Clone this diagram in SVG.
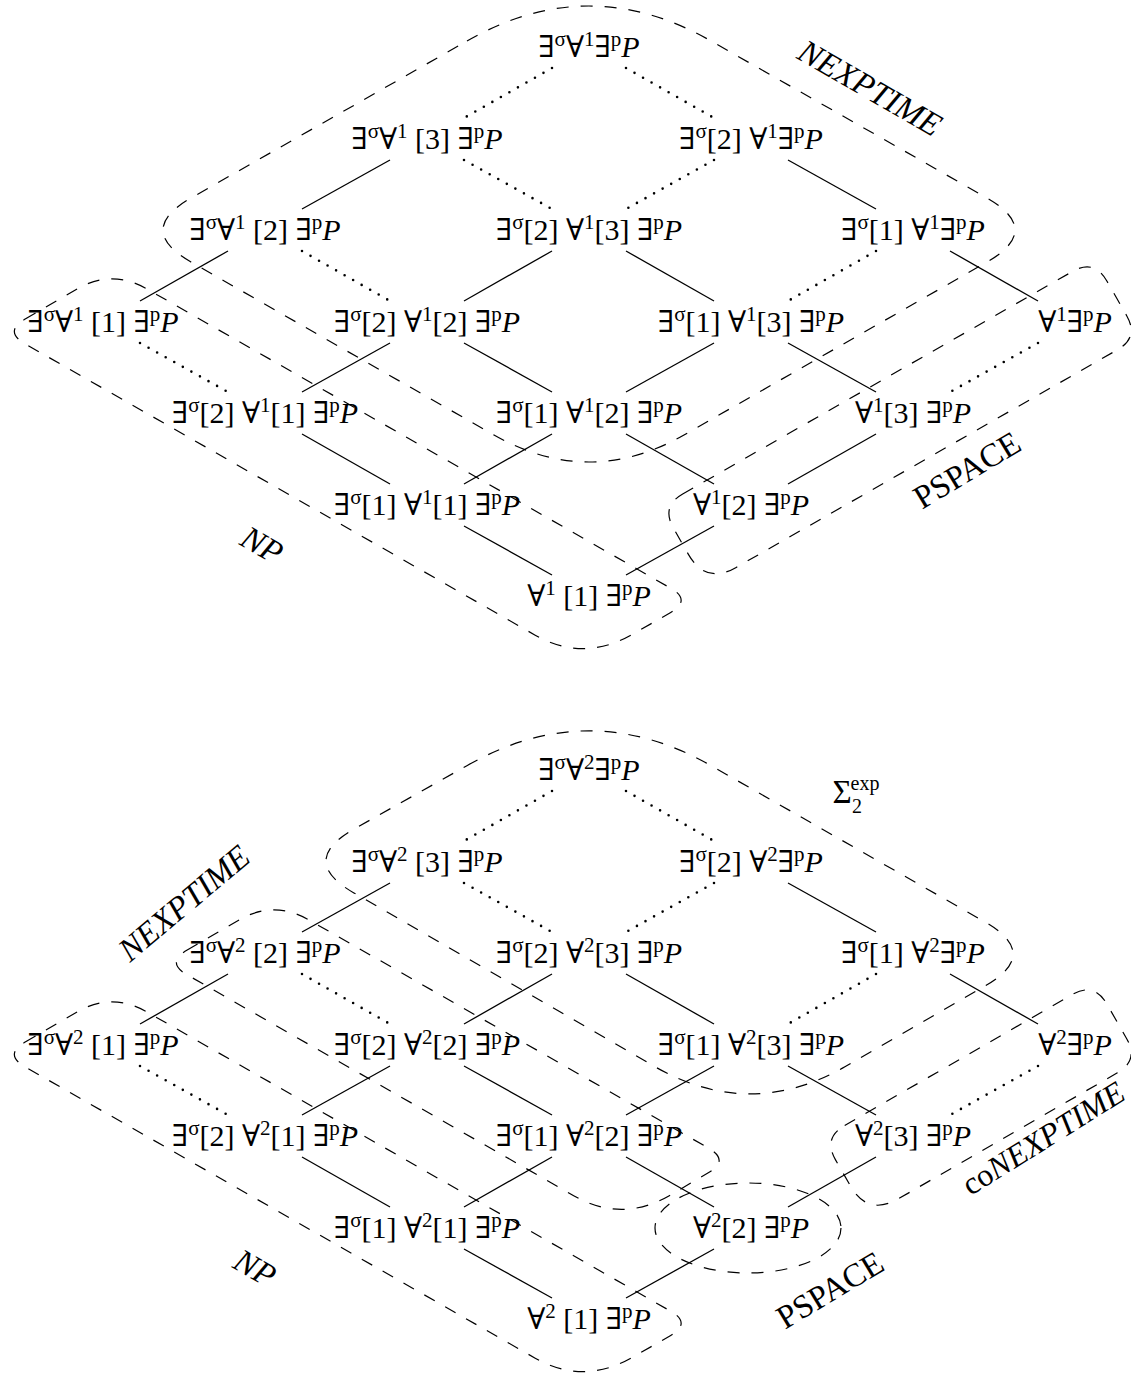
<svg xmlns="http://www.w3.org/2000/svg" width="1131" height="1374" viewBox="0 0 1131 1374">
<style>
.n{font-family:"Liberation Serif","DejaVu Serif",serif;font-size:30px;text-anchor:middle;fill:#000}
.s{font-size:21px}
.i{font-style:italic}
.e{stroke:#000;stroke-width:1.3;fill:none}
.d{stroke:#000;stroke-width:2.6;stroke-linecap:round;stroke-dasharray:0 9.8;fill:none}
.r{stroke:#000;stroke-width:1.2;fill:none;stroke-dasharray:12 12}
.lab{font-family:"Liberation Serif","DejaVu Serif",serif;font-size:33px;text-anchor:middle;fill:#000}
</style>
<rect width="1131" height="1374" fill="#fff"/>
<g id="regions">
<path id="r-nexptime-1" class="r" d="M 467,41 Q 589,-29 711,41 L 987,198 Q 1043,230 987,262 L 684,435 Q 589,489 494,435 L 191,262 Q 135,230 191,198 Z"/>
<path id="r-np-1" class="r" d="M 25.2,319.1 L 77.3,288.8 Q 112,269 146.7,288.8 L 670.3,588 Q 692,600 670.3,612.8 L 630.8,635.2 Q 583,662 535.2,635.2 L 25.2,343.9 Q 3.5,331.5 25.2,319.1 Z"/>
<path id="r-pspace-1" class="r" d="M 682.7,494 L 1072.6,271.4 Q 1094.3,259 1106.7,280.7 L 1126.7,315.7 Q 1139.1,337.4 1117.4,349.8 L 736.2,567.4 Q 705.8,584.8 688.4,554.4 L 673.4,528.1 Q 661,506.4 682.7,494 Z"/>
<path id="r-sigma-2" class="r" d="M 466.9,765.7 Q 589,696 711.1,765.7 L 985.2,922.1 Q 1041,954 985.2,985.9 L 844.9,1066.8 Q 750,1121 655.1,1066.8 L 353.9,892.9 Q 298,861 353.9,829.1 Z"/>
<path id="r-nexptime-2" class="r" d="M 187.2,950.1 L 239.3,919.8 Q 274,900 308.7,919.8 L 708.3,1148 Q 730,1160.4 708.3,1172.8 L 669.3,1195.7 Q 621.5,1223 573.7,1195.7 L 187.2,974.9 Q 165.5,962.5 187.2,950.1 Z"/>
<path id="r-np-2" class="r" transform="translate(0,723)" d="M 25.2,319.1 L 77.3,288.8 Q 112,269 146.7,288.8 L 670.3,588 Q 692,600 670.3,612.8 L 630.8,635.2 Q 583,662 535.2,635.2 L 25.2,343.9 Q 3.5,331.5 25.2,319.1 Z"/>
<path id="r-conexptime-2" class="r" d="M 844.7,1125.5 L 1072.6,994.4 Q 1094.3,982 1106.7,1003.7 L 1126.7,1038.7 Q 1139.1,1060.4 1117.4,1072.8 L 898.2,1198.9 Q 867.8,1216.3 850.4,1185.9 L 835.4,1159.6 Q 823,1137.9 844.7,1125.5 Z"/>
<ellipse id="r-pspace-2" class="r" cx="748" cy="1228" rx="93" ry="45"/>
</g>
<g id="connectors">
<g id="edges-1">
<line class="d" x1="552" y1="68" x2="464" y2="118"/>
<line class="d" x1="626" y1="68" x2="714" y2="118"/>
<line class="e" x1="390" y1="160" x2="302" y2="209"/>
<line class="d" x1="464" y1="160" x2="552" y2="209"/>
<line class="d" x1="714" y1="160" x2="626" y2="209"/>
<line class="e" x1="788" y1="160" x2="876" y2="209"/>
<line class="e" x1="228" y1="251" x2="140" y2="301"/>
<line class="d" x1="302" y1="251" x2="390" y2="301"/>
<line class="e" x1="552" y1="251" x2="464" y2="301"/>
<line class="e" x1="626" y1="251" x2="714" y2="301"/>
<line class="d" x1="876" y1="251" x2="788" y2="301"/>
<line class="e" x1="950" y1="251" x2="1038" y2="301"/>
<line class="d" x1="140" y1="343" x2="228" y2="392"/>
<line class="e" x1="390" y1="343" x2="302" y2="392"/>
<line class="e" x1="464" y1="343" x2="552" y2="392"/>
<line class="e" x1="714" y1="343" x2="626" y2="392"/>
<line class="e" x1="788" y1="343" x2="876" y2="392"/>
<line class="d" x1="1038" y1="343" x2="950" y2="392"/>
<line class="e" x1="302" y1="434" x2="390" y2="484"/>
<line class="e" x1="552" y1="434" x2="464" y2="484"/>
<line class="e" x1="626" y1="434" x2="714" y2="484"/>
<line class="e" x1="876" y1="434" x2="788" y2="484"/>
<line class="e" x1="464" y1="526" x2="552" y2="575"/>
<line class="e" x1="714" y1="526" x2="626" y2="575"/>
</g>
<g id="edges-2" transform="translate(0,723)">
<line class="d" x1="552" y1="68" x2="464" y2="118"/>
<line class="d" x1="626" y1="68" x2="714" y2="118"/>
<line class="e" x1="390" y1="160" x2="302" y2="209"/>
<line class="d" x1="464" y1="160" x2="552" y2="209"/>
<line class="d" x1="714" y1="160" x2="626" y2="209"/>
<line class="e" x1="788" y1="160" x2="876" y2="209"/>
<line class="e" x1="228" y1="251" x2="140" y2="301"/>
<line class="d" x1="302" y1="251" x2="390" y2="301"/>
<line class="e" x1="552" y1="251" x2="464" y2="301"/>
<line class="e" x1="626" y1="251" x2="714" y2="301"/>
<line class="d" x1="876" y1="251" x2="788" y2="301"/>
<line class="e" x1="950" y1="251" x2="1038" y2="301"/>
<line class="d" x1="140" y1="343" x2="228" y2="392"/>
<line class="e" x1="390" y1="343" x2="302" y2="392"/>
<line class="e" x1="464" y1="343" x2="552" y2="392"/>
<line class="e" x1="714" y1="343" x2="626" y2="392"/>
<line class="e" x1="788" y1="343" x2="876" y2="392"/>
<line class="d" x1="1038" y1="343" x2="950" y2="392"/>
<line class="e" x1="302" y1="434" x2="390" y2="484"/>
<line class="e" x1="552" y1="434" x2="464" y2="484"/>
<line class="e" x1="626" y1="434" x2="714" y2="484"/>
<line class="e" x1="876" y1="434" x2="788" y2="484"/>
<line class="e" x1="464" y1="526" x2="552" y2="575"/>
<line class="e" x1="714" y1="526" x2="626" y2="575"/>
</g>
</g>
<g id="nodes-1">
<g id="t-r1"><text class="n" x="589" y="57">∃<tspan class="s" dy="-11">σ</tspan><tspan dy="11">∀</tspan><tspan class="s" dy="-11">1</tspan><tspan dy="11">∃</tspan><tspan class="s" dy="-11">p</tspan><tspan class="i" dy="11">P</tspan></text></g>
<g id="t-r2a"><text class="n" x="427" y="149">∃<tspan class="s" dy="-11">σ</tspan><tspan dy="11">∀</tspan><tspan class="s" dy="-11">1</tspan><tspan dy="11"> [3] ∃</tspan><tspan class="s" dy="-11">p</tspan><tspan class="i" dy="11">P</tspan></text></g>
<g id="t-r2b"><text class="n" x="751" y="149">∃<tspan class="s" dy="-11">σ</tspan><tspan dy="11">[2] ∀</tspan><tspan class="s" dy="-11">1</tspan><tspan dy="11">∃</tspan><tspan class="s" dy="-11">p</tspan><tspan class="i" dy="11">P</tspan></text></g>
<g id="t-r3a"><text class="n" x="265" y="240">∃<tspan class="s" dy="-11">σ</tspan><tspan dy="11">∀</tspan><tspan class="s" dy="-11">1</tspan><tspan dy="11"> [2] ∃</tspan><tspan class="s" dy="-11">p</tspan><tspan class="i" dy="11">P</tspan></text></g>
<g id="t-r3b"><text class="n" x="589" y="240">∃<tspan class="s" dy="-11">σ</tspan><tspan dy="11">[2] ∀</tspan><tspan class="s" dy="-11">1</tspan><tspan dy="11">[3] ∃</tspan><tspan class="s" dy="-11">p</tspan><tspan class="i" dy="11">P</tspan></text></g>
<g id="t-r3c"><text class="n" x="913" y="240">∃<tspan class="s" dy="-11">σ</tspan><tspan dy="11">[1] ∀</tspan><tspan class="s" dy="-11">1</tspan><tspan dy="11">∃</tspan><tspan class="s" dy="-11">p</tspan><tspan class="i" dy="11">P</tspan></text></g>
<g id="t-r4a"><text class="n" x="103" y="332">∃<tspan class="s" dy="-11">σ</tspan><tspan dy="11">∀</tspan><tspan class="s" dy="-11">1</tspan><tspan dy="11"> [1] ∃</tspan><tspan class="s" dy="-11">p</tspan><tspan class="i" dy="11">P</tspan></text></g>
<g id="t-r4b"><text class="n" x="427" y="332">∃<tspan class="s" dy="-11">σ</tspan><tspan dy="11">[2] ∀</tspan><tspan class="s" dy="-11">1</tspan><tspan dy="11">[2] ∃</tspan><tspan class="s" dy="-11">p</tspan><tspan class="i" dy="11">P</tspan></text></g>
<g id="t-r4c"><text class="n" x="751" y="332">∃<tspan class="s" dy="-11">σ</tspan><tspan dy="11">[1] ∀</tspan><tspan class="s" dy="-11">1</tspan><tspan dy="11">[3] ∃</tspan><tspan class="s" dy="-11">p</tspan><tspan class="i" dy="11">P</tspan></text></g>
<g id="t-r4d"><text class="n" x="1075" y="332">∀<tspan class="s" dy="-11">1</tspan><tspan dy="11">∃</tspan><tspan class="s" dy="-11">p</tspan><tspan class="i" dy="11">P</tspan></text></g>
<g id="t-r5a"><text class="n" x="265" y="423">∃<tspan class="s" dy="-11">σ</tspan><tspan dy="11">[2] ∀</tspan><tspan class="s" dy="-11">1</tspan><tspan dy="11">[1] ∃</tspan><tspan class="s" dy="-11">p</tspan><tspan class="i" dy="11">P</tspan></text></g>
<g id="t-r5b"><text class="n" x="589" y="423">∃<tspan class="s" dy="-11">σ</tspan><tspan dy="11">[1] ∀</tspan><tspan class="s" dy="-11">1</tspan><tspan dy="11">[2] ∃</tspan><tspan class="s" dy="-11">p</tspan><tspan class="i" dy="11">P</tspan></text></g>
<g id="t-r5c"><text class="n" x="913" y="423">∀<tspan class="s" dy="-11">1</tspan><tspan dy="11">[3] ∃</tspan><tspan class="s" dy="-11">p</tspan><tspan class="i" dy="11">P</tspan></text></g>
<g id="t-r6a"><text class="n" x="427" y="515">∃<tspan class="s" dy="-11">σ</tspan><tspan dy="11">[1] ∀</tspan><tspan class="s" dy="-11">1</tspan><tspan dy="11">[1] ∃</tspan><tspan class="s" dy="-11">p</tspan><tspan class="i" dy="11">P</tspan></text></g>
<g id="t-r6b"><text class="n" x="751" y="515">∀<tspan class="s" dy="-11">1</tspan><tspan dy="11">[2] ∃</tspan><tspan class="s" dy="-11">p</tspan><tspan class="i" dy="11">P</tspan></text></g>
<g id="t-r7"><text class="n" x="589" y="606">∀<tspan class="s" dy="-11">1</tspan><tspan dy="11"> [1] ∃</tspan><tspan class="s" dy="-11">p</tspan><tspan class="i" dy="11">P</tspan></text></g>
</g>
<g id="nodes-2">
<g id="b-r1"><text class="n" x="589" y="780">∃<tspan class="s" dy="-11">σ</tspan><tspan dy="11">∀</tspan><tspan class="s" dy="-11">2</tspan><tspan dy="11">∃</tspan><tspan class="s" dy="-11">p</tspan><tspan class="i" dy="11">P</tspan></text></g>
<g id="b-r2a"><text class="n" x="427" y="872">∃<tspan class="s" dy="-11">σ</tspan><tspan dy="11">∀</tspan><tspan class="s" dy="-11">2</tspan><tspan dy="11"> [3] ∃</tspan><tspan class="s" dy="-11">p</tspan><tspan class="i" dy="11">P</tspan></text></g>
<g id="b-r2b"><text class="n" x="751" y="872">∃<tspan class="s" dy="-11">σ</tspan><tspan dy="11">[2] ∀</tspan><tspan class="s" dy="-11">2</tspan><tspan dy="11">∃</tspan><tspan class="s" dy="-11">p</tspan><tspan class="i" dy="11">P</tspan></text></g>
<g id="b-r3a"><text class="n" x="265" y="963">∃<tspan class="s" dy="-11">σ</tspan><tspan dy="11">∀</tspan><tspan class="s" dy="-11">2</tspan><tspan dy="11"> [2] ∃</tspan><tspan class="s" dy="-11">p</tspan><tspan class="i" dy="11">P</tspan></text></g>
<g id="b-r3b"><text class="n" x="589" y="963">∃<tspan class="s" dy="-11">σ</tspan><tspan dy="11">[2] ∀</tspan><tspan class="s" dy="-11">2</tspan><tspan dy="11">[3] ∃</tspan><tspan class="s" dy="-11">p</tspan><tspan class="i" dy="11">P</tspan></text></g>
<g id="b-r3c"><text class="n" x="913" y="963">∃<tspan class="s" dy="-11">σ</tspan><tspan dy="11">[1] ∀</tspan><tspan class="s" dy="-11">2</tspan><tspan dy="11">∃</tspan><tspan class="s" dy="-11">p</tspan><tspan class="i" dy="11">P</tspan></text></g>
<g id="b-r4a"><text class="n" x="103" y="1055">∃<tspan class="s" dy="-11">σ</tspan><tspan dy="11">∀</tspan><tspan class="s" dy="-11">2</tspan><tspan dy="11"> [1] ∃</tspan><tspan class="s" dy="-11">p</tspan><tspan class="i" dy="11">P</tspan></text></g>
<g id="b-r4b"><text class="n" x="427" y="1055">∃<tspan class="s" dy="-11">σ</tspan><tspan dy="11">[2] ∀</tspan><tspan class="s" dy="-11">2</tspan><tspan dy="11">[2] ∃</tspan><tspan class="s" dy="-11">p</tspan><tspan class="i" dy="11">P</tspan></text></g>
<g id="b-r4c"><text class="n" x="751" y="1055">∃<tspan class="s" dy="-11">σ</tspan><tspan dy="11">[1] ∀</tspan><tspan class="s" dy="-11">2</tspan><tspan dy="11">[3] ∃</tspan><tspan class="s" dy="-11">p</tspan><tspan class="i" dy="11">P</tspan></text></g>
<g id="b-r4d"><text class="n" x="1075" y="1055">∀<tspan class="s" dy="-11">2</tspan><tspan dy="11">∃</tspan><tspan class="s" dy="-11">p</tspan><tspan class="i" dy="11">P</tspan></text></g>
<g id="b-r5a"><text class="n" x="265" y="1146">∃<tspan class="s" dy="-11">σ</tspan><tspan dy="11">[2] ∀</tspan><tspan class="s" dy="-11">2</tspan><tspan dy="11">[1] ∃</tspan><tspan class="s" dy="-11">p</tspan><tspan class="i" dy="11">P</tspan></text></g>
<g id="b-r5b"><text class="n" x="589" y="1146">∃<tspan class="s" dy="-11">σ</tspan><tspan dy="11">[1] ∀</tspan><tspan class="s" dy="-11">2</tspan><tspan dy="11">[2] ∃</tspan><tspan class="s" dy="-11">p</tspan><tspan class="i" dy="11">P</tspan></text></g>
<g id="b-r5c"><text class="n" x="913" y="1146">∀<tspan class="s" dy="-11">2</tspan><tspan dy="11">[3] ∃</tspan><tspan class="s" dy="-11">p</tspan><tspan class="i" dy="11">P</tspan></text></g>
<g id="b-r6a"><text class="n" x="427" y="1238">∃<tspan class="s" dy="-11">σ</tspan><tspan dy="11">[1] ∀</tspan><tspan class="s" dy="-11">2</tspan><tspan dy="11">[1] ∃</tspan><tspan class="s" dy="-11">p</tspan><tspan class="i" dy="11">P</tspan></text></g>
<g id="b-r6b"><text class="n" x="751" y="1238">∀<tspan class="s" dy="-11">2</tspan><tspan dy="11">[2] ∃</tspan><tspan class="s" dy="-11">p</tspan><tspan class="i" dy="11">P</tspan></text></g>
<g id="b-r7"><text class="n" x="589" y="1329">∀<tspan class="s" dy="-11">2</tspan><tspan dy="11"> [1] ∃</tspan><tspan class="s" dy="-11">p</tspan><tspan class="i" dy="11">P</tspan></text></g>
</g>
<g id="labels">
<text class="lab i" transform="translate(870,88) rotate(30)" y="11">NEXPTIME</text>
<text class="lab" transform="translate(967,470) rotate(-31)" y="11">PSPACE</text>
<text class="lab i" transform="translate(262,545) rotate(30)" y="11">NP</text>
<text class="lab" x="842" y="803" font-size="32">Σ</text>
<text class="lab" x="857" y="813" style="font-size:20px">2</text>
<text class="lab" x="865" y="790" style="font-size:20px">exp</text>
<text class="lab i" transform="translate(184,903) rotate(-40)" y="11">NEXPTIME</text>
<text class="lab" transform="translate(1043,1138) rotate(-32)" y="11" style="font-size:32px">co<tspan class="i">NEXPTIME</tspan></text>
<text class="lab" transform="translate(830,1290) rotate(-31)" y="11">PSPACE</text>
<text class="lab i" transform="translate(255,1268) rotate(30)" y="11">NP</text>
</g>
</svg>
